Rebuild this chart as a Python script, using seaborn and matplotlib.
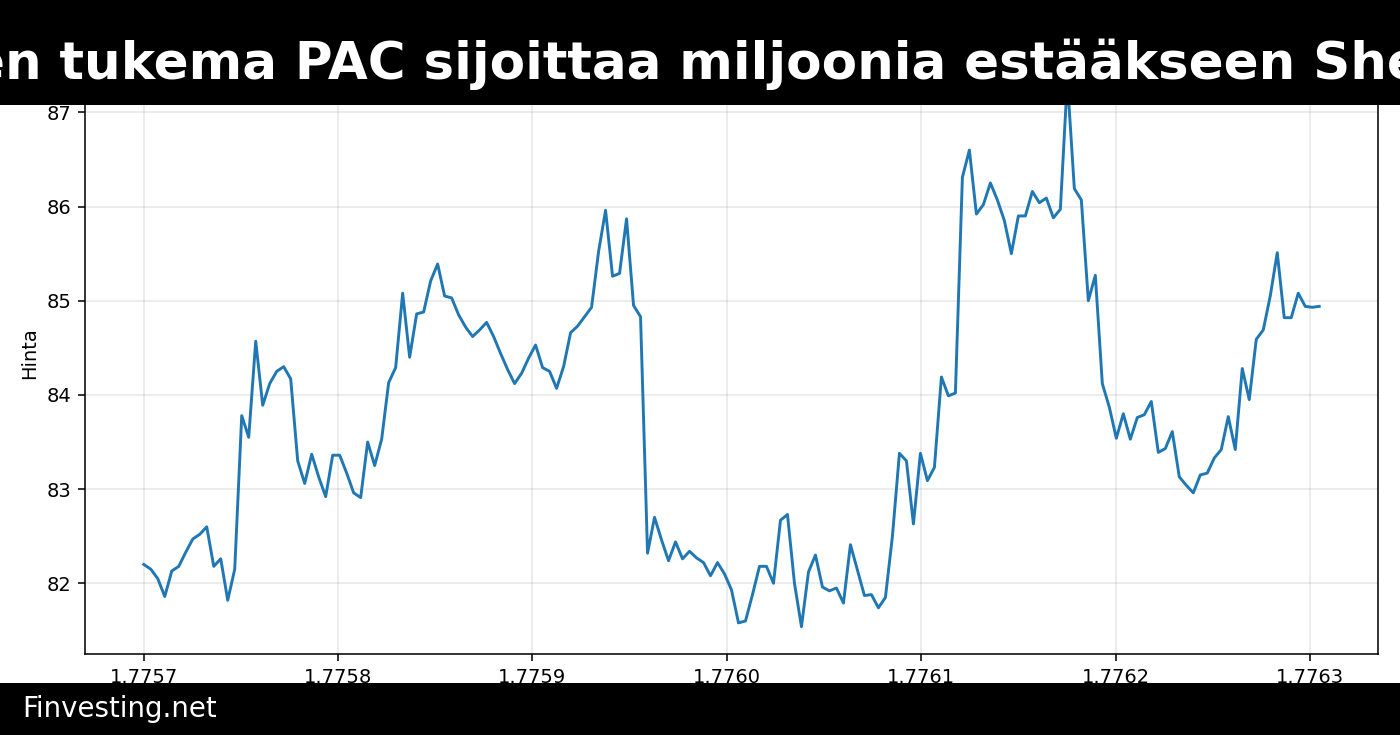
import numpy as np
import pandas as pd
import matplotlib
matplotlib.use("Agg")
import matplotlib.pyplot as plt
from matplotlib.patches import Rectangle
import seaborn as sns

# ---- data ----
start_ts = 1775700000          # first timestamp (s)
step_s = 3600                  # hourly
prices = [
    82.20, 82.15, 82.05, 81.86, 82.13, 82.18, 82.33, 82.47, 82.52, 82.60,
    82.18, 82.26, 81.82, 82.15, 83.78, 83.55, 84.57, 83.89, 84.12, 84.25,
    84.30, 84.17, 83.30, 83.06, 83.37, 83.13, 82.92, 83.36, 83.36, 83.17,
    82.96, 82.91, 83.50, 83.25, 83.53, 84.13, 84.29, 85.08, 84.40, 84.86,
    84.88, 85.21, 85.39, 85.05, 85.03, 84.85, 84.72, 84.62, 84.69, 84.77,
    84.62, 84.44, 84.27, 84.12, 84.23, 84.39, 84.53, 84.29, 84.25, 84.07,
    84.30, 84.66, 84.73, 84.83, 84.93, 85.52, 85.96, 85.26, 85.29, 85.87,
    84.95, 84.83, 82.32, 82.70, 82.46, 82.24, 82.44, 82.26, 82.34, 82.27,
    82.22, 82.08, 82.22, 82.10, 81.93, 81.58, 81.60, 81.88, 82.18, 82.18,
    82.00, 82.67, 82.73, 82.00, 81.54, 82.12, 82.30, 81.96, 81.92, 81.95,
    81.79, 82.41, 82.14, 81.87, 81.88, 81.74, 81.85, 82.50, 83.38, 83.30,
    82.63, 83.38, 83.09, 83.23, 84.19, 83.99, 84.02, 86.31, 86.60, 85.92,
    86.02, 86.25, 86.07, 85.85, 85.50, 85.90, 85.90, 86.16, 86.04, 86.09,
    85.88, 85.97, 87.35, 86.19, 86.07, 85.00, 85.27, 84.12, 83.87, 83.54,
    83.80, 83.53, 83.76, 83.79, 83.93, 83.39, 83.43, 83.61, 83.13, 83.04,
    82.96, 83.15, 83.17, 83.33, 83.42, 83.77, 83.42, 84.28, 83.95, 84.59,
    84.69, 85.05, 85.51, 84.82, 84.82, 85.08, 84.94, 84.93, 84.94,
]
timestamps = start_ts + step_s * np.arange(len(prices))

title_text = "en tukema PAC sijoittaa miljoonia estääkseen She"
footer_text = "Finvesting.net"
y_label = "Hinta"

df = pd.DataFrame({"t": timestamps, "price": prices})

# ---- figure ----
W, H = 1400, 735
dpi = 140
fig = plt.figure(figsize=(W / dpi, H / dpi), dpi=dpi)
ax = fig.add_axes([85 / W, 1 - 654 / H, (1378 - 85) / W, (654 - 52) / H])

sns.lineplot(data=df, x="t", y="price", ax=ax, color="#1f77b4", linewidth=1.5)
ax.set_xlabel("")
ax.set_ylabel(y_label)
ax.grid(True, alpha=0.3)
ax.ticklabel_format(axis="x", useOffset=False)
ax.set_yticks([82, 83, 84, 85, 86, 87])

# header and footer bars drawn above the axes
fig.patches.append(Rectangle((0, 1 - 105 / H), 1, 105 / H, transform=fig.transFigure,
                             facecolor="black", edgecolor="none", zorder=10))
fig.patches.append(Rectangle((0, 0), 1, 52 / H, transform=fig.transFigure,
                             facecolor="black", edgecolor="none", zorder=10))
fig.text(696 / W, 1 - 79.0 / H, title_text, ha="center", va="baseline", color="white",
         fontsize=26.5, fontweight="bold", zorder=11)
fig.text(22.3 / W, 1 - 717.3 / H, footer_text, ha="left", va="baseline", color="white",
         fontsize=14.2, zorder=11)

fig.savefig("out.png", dpi=dpi)
